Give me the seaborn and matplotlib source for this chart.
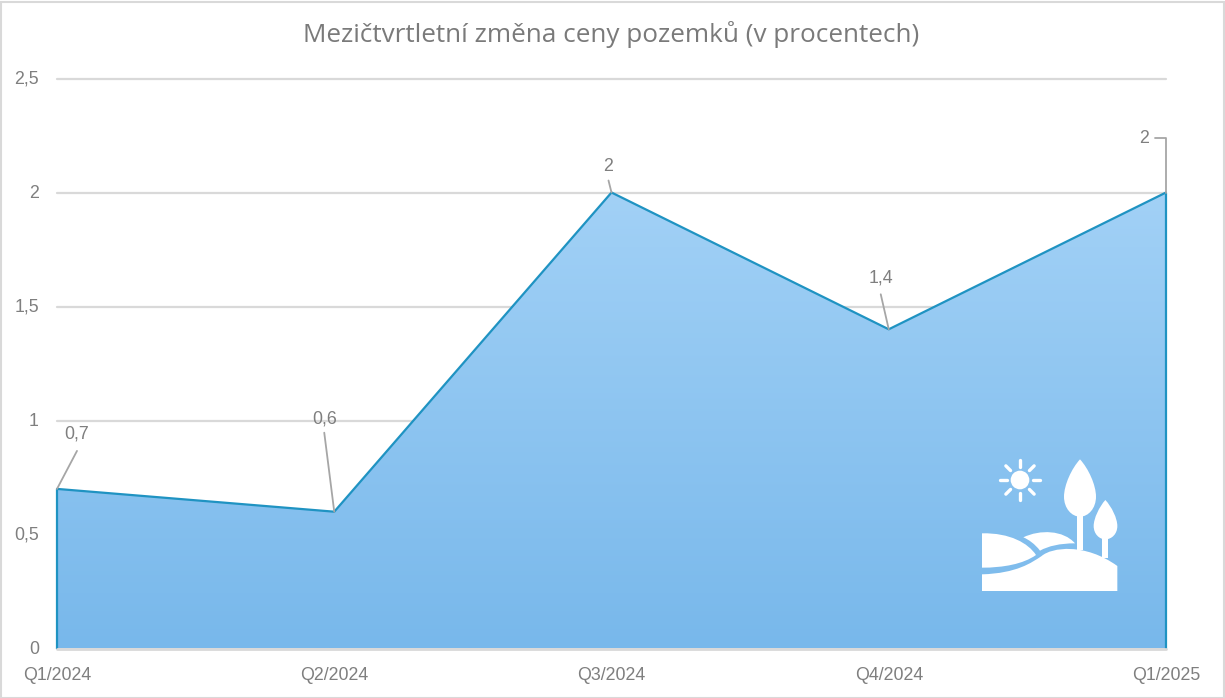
import numpy as np
import pandas as pd
import seaborn as sns
import matplotlib.pyplot as plt
from matplotlib.colors import LinearSegmentedColormap
from matplotlib.patches import Circle, PathPatch, Rectangle
from matplotlib.path import Path
from matplotlib.transforms import Affine2D, ScaledTranslation

# Data
quarters = ['Q1/2024', 'Q2/2024', 'Q3/2024', 'Q4/2024', 'Q1/2025']
changes = [0.7, 0.6, 2.0, 1.4, 2.0]
change_labels = ['0,7', '0,6', '2', '1,4', '2']
y_ticks = [0, 0.5, 1, 1.5, 2, 2.5]
y_tick_labels = ['0', '0,5', '1', '1,5', '2', '2,5']

TEXT = '#7F7F7F'
GRID = '#D9D9D9'
LINE = '#1F93C2'
LEADER = '#A6A6A6'

sns.set_theme(style="white")
plt.rcParams['font.family'] = ['Liberation Sans', 'DejaVu Sans']

fig = plt.figure(figsize=(12.25, 6.98), dpi=100, facecolor='white')
ax = fig.add_axes([57 / 1225, 1 - 648.5 / 698, (1166 - 57) / 1225, (648.5 - 78.5) / 698])
sns.despine(ax=ax, left=True, bottom=True, top=True, right=True)

df = pd.DataFrame({'quarter': quarters, 'change': changes})
df['pos'] = range(len(df))

ax.set_xlim(0, len(df) - 1)
ax.set_ylim(0, 2.5)

# Gridlines
ax.set_yticks(y_ticks)
ax.set_yticklabels(y_tick_labels, fontsize=12.8, color=TEXT)
ax.set_xticks(df['pos'])
ax.set_xticklabels(quarters, fontsize=12.8, color=TEXT)
ax.grid(axis='y', color=GRID, linewidth=1.6, zorder=0, clip_on=False)
ax.tick_params(axis='y', length=0, pad=13)
ax.tick_params(axis='x', length=6, width=1, color=GRID, pad=7)

# nudge y labels up a little
for lab in ax.get_yticklabels():
    lab.set_transform(lab.get_transform() + ScaledTranslation(0, 1.5 / 100, fig.dpi_scale_trans))

# Area with vertical gradient
grad = LinearSegmentedColormap.from_list('area', ['#78B8EB', '#A2D1F6'])
area = ax.fill_between(df['pos'], 0, df['change'], color='none', zorder=2)
img = ax.imshow(np.linspace(0, 1, 256).reshape(-1, 1), cmap=grad, origin='lower', aspect='auto',
                extent=(0, len(df) - 1, 0, df['change'].max()), zorder=2)
img.set_clip_path(area.get_paths()[0], transform=ax.transData)
ax.set_xlim(0, len(df) - 1)
ax.set_ylim(0, 2.5)

# Outline
sns.lineplot(data=df, x='pos', y='change', color=LINE, linewidth=1.6, ax=ax, zorder=3, clip_on=False)
ax.vlines([0, len(df) - 1], 0, [changes[0], changes[-1]], color=LINE, linewidth=1.6, zorder=3, clip_on=False)
ax.axhline(0, color=GRID, linewidth=2, zorder=4, clip_on=False)
ax.set_xlabel('')
ax.set_ylabel('')

# Data labels with leader lines (offsets in pixels)
label_offsets = [(20, 55), (-10, 93), (-3, 26), (-8, 51), (-22, 54)]
leader_ends = [(20, 38), (-10, 79), (-3, 12), (-8, 35), (0, 55)]
for i in range(len(df)):
    ox, oy = label_offsets[i]
    ax.annotate(change_labels[i], (i, changes[i]), xytext=(ox, oy), textcoords='offset pixels',
                ha='center', va='center', fontsize=12.8, color=TEXT, zorder=6, annotation_clip=False)
    lx, ly = leader_ends[i]
    xs = [0, lx]
    ys = [0, ly]
    if i == len(df) - 1:
        xs.append(-11)
        ys.append(55)
    base = ax.transData.transform((i, changes[i]))
    pts = ax.transData.inverted().transform(np.column_stack([base[0] + np.array(xs), base[1] + np.array(ys)]))
    ax.plot(pts[:, 0], pts[:, 1], color=LEADER, linewidth=1.3, zorder=5, clip_on=False)

# Title
fig.text(611.5 / 1225, 1 - 35 / 698, 'Mezičtvrtletní změna ceny pozemků (v procentech)',
         ha='center', va='center', fontsize=18.8, color='#7A7A7A', family=['Open Sans', 'DejaVu Sans'])

# Icon, drawn in crop coordinates
icon = Affine2D().scale(1 / 3, 1 / 3).translate(960, 440) + Affine2D().scale(1, -1).translate(0, 698) + Affine2D().scale(1 / 100) + fig.dpi_scale_trans
M, L, C, Z = Path.MOVETO, Path.LINETO, Path.CURVE4, Path.CLOSEPOLY


def add_shape(verts, codes):
    fig.add_artist(PathPatch(Path(verts, codes), facecolor='white', edgecolor='none', transform=icon, zorder=8))


# ground
add_shape([(66, 403), (170, 400), (215, 368), (245, 348), (275, 322), (375, 308), (472, 378), (472, 453), (66, 453), (66, 403)],
          [M, C, C, C, C, C, C, L, L, Z])
# left hill
add_shape([(66, 280), (150, 278), (205, 310), (228, 345), (190, 372), (130, 383), (66, 383), (66, 280)],
          [M, C, C, C, C, C, C, Z])
# middle hill
add_shape([(190, 292), (240, 268), (310, 270), (345, 310), (300, 310), (265, 318), (240, 332), (225, 312), (205, 298), (190, 292), (190, 292)],
          [M, C, C, C, C, C, C, C, C, C, Z])
# trees
add_shape([(360, 58), (335, 85), (312, 135), (312, 170), (312, 205), (335, 230), (360, 230), (385, 230), (408, 205), (408, 170),
           (408, 135), (385, 85), (360, 58), (360, 58)],
          [M, C, C, C, C, C, C, C, C, C, C, C, C, Z])
add_shape([(436, 180), (418, 200), (401, 235), (401, 258), (401, 282), (418, 298), (436, 298), (455, 298), (472, 282), (472, 258),
           (472, 235), (455, 200), (436, 180), (436, 180)],
          [M, C, C, C, C, C, C, C, C, C, C, C, C, Z])
fig.add_artist(Rectangle((350, 225), 20, 105, facecolor='white', edgecolor='none', transform=icon, zorder=8))
fig.add_artist(Rectangle((427, 290), 18, 65, facecolor='white', edgecolor='none', transform=icon, zorder=8))
# sun
fig.add_artist(Circle((180, 120), 28, facecolor='white', edgecolor='none', transform=icon, zorder=8))
for a in np.deg2rad(np.arange(0, 360, 45)):
    fig.add_artist(plt.Line2D([180 + 40 * np.cos(a), 180 + 60 * np.cos(a)], [120 + 40 * np.sin(a), 120 + 60 * np.sin(a)],
                              color='white', linewidth=2.4, transform=icon, zorder=8))

# Chart border
fig.add_artist(Rectangle((0.5, 0.5), 1223, 696, facecolor='none', edgecolor=GRID, linewidth=1.5, transform=Affine2D().scale(1 / 100) + fig.dpi_scale_trans))

plt.savefig('out.png', dpi=100, facecolor='white')
